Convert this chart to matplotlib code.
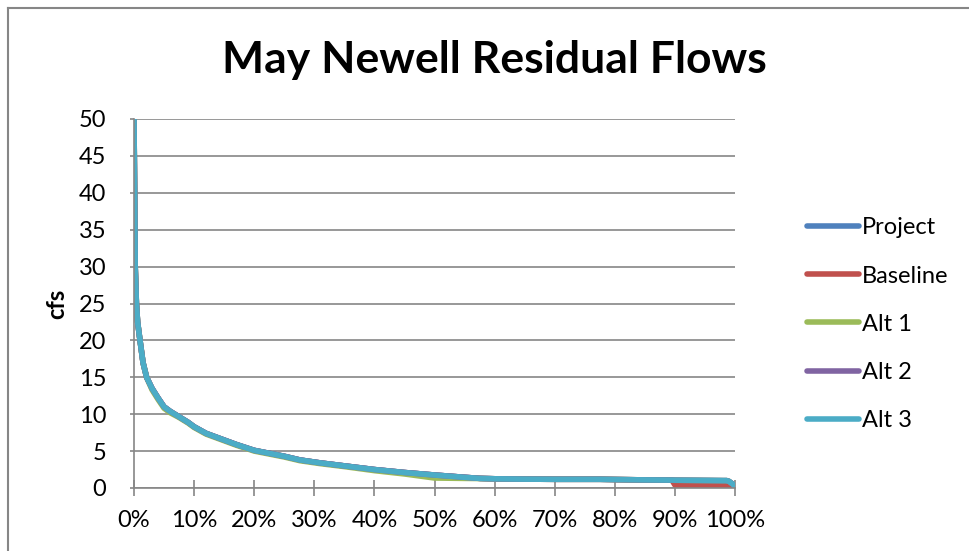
import matplotlib
matplotlib.use("Agg")
import matplotlib.pyplot as plt
from matplotlib.lines import Line2D
from matplotlib.ticker import PercentFormatter

plt.rcParams['font.family'] = ['Lato', 'DejaVu Sans']

# Exceedance probability (fraction) and flows (cfs)
exceedance = [0.0, 0.001, 0.002, 0.004, 0.006, 0.01, 0.015, 0.021, 0.03, 0.04, 0.05,
              0.06, 0.074, 0.09, 0.10, 0.12, 0.15, 0.17, 0.20, 0.25, 0.276, 0.31,
              0.35, 0.40, 0.45, 0.50, 0.55, 0.576, 0.60, 0.65, 0.70, 0.775, 0.80,
              0.85, 0.895, 0.90, 0.95, 0.98, 0.986, 0.99, 0.995, 1.0]
project = [50.0, 40.0, 30.0, 25.0, 22.5, 20.0, 17.0, 15.0, 13.5, 12.2, 11.0,
           10.4, 9.7, 8.9, 8.3, 7.4, 6.5, 5.9, 5.1, 4.3, 3.8, 3.4,
           3.0, 2.5, 2.1, 1.76, 1.45, 1.3, 1.25, 1.2, 1.18, 1.18, 1.15,
           1.1, 1.07, 1.05, 1.02, 1.0, 1.0, 0.9, 0.6, 0.27]
baseline = [50.0, 40.0, 30.0, 25.0, 22.5, 20.0, 17.0, 15.0, 13.5, 12.2, 11.0,
            10.4, 9.7, 8.9, 8.3, 7.4, 6.5, 5.9, 5.1, 4.3, 3.8, 3.4,
            3.0, 2.5, 2.1, 1.76, 1.45, 1.3, 1.25, 1.2, 1.18, 1.18, 1.15,
            1.1, 1.07, 0.4, 0.4, 0.4, 0.4, 0.35, 0.3, 0.27]
alt1 = [50.0, 40.0, 30.0, 25.0, 22.5, 20.0, 17.0, 15.0, 13.3, 12.0, 10.8,
        10.2, 9.6, 8.8, 8.2, 7.3, 6.4, 5.8, 5.0, 4.2, 3.7, 3.3,
        2.9, 2.35, 1.9, 1.35, 1.3, 1.28, 1.25, 1.2, 1.18, 1.18, 1.15,
        1.1, 1.07, 1.05, 1.02, 1.0, 1.0, 0.9, 0.6, 0.27]
alt2 = list(project)
alt3 = list(project)

series = [("Project", project, "#4F81BD"),
          ("Baseline", baseline, "#C0504D"),
          ("Alt 1", alt1, "#9BBB59"),
          ("Alt 2", alt2, "#8064A2"),
          ("Alt 3", alt3, "#4BACC6")]

y_ticks = [0, 5, 10, 15, 20, 25, 30, 35, 40, 45, 50]
x_ticks = [0, 0.1, 0.2, 0.3, 0.4, 0.5, 0.6, 0.7, 0.8, 0.9, 1.0]

fig = plt.figure(figsize=(9.69, 5.51), dpi=100)
W, H = 969, 551
ax = fig.add_axes([134 / W, 1 - 488 / H, (735 - 134) / W, (488 - 119) / H])

for name, vals, col in series:
    ax.plot(exceedance, vals, color=col, lw=4, solid_capstyle='round',
            solid_joinstyle='round', label=name)

ax.set_xlim(0, 1)
ax.set_ylim(0, 50)
ax.set_xticks(x_ticks)
ax.set_yticks(y_ticks)
ax.xaxis.set_major_formatter(PercentFormatter(1.0, decimals=0))
ax.grid(axis='y', color='#868686', lw=1.2)
ax.set_axisbelow(True)
for s in ['top', 'right']:
    ax.spines[s].set_visible(False)
for s in ['left', 'bottom']:
    ax.spines[s].set_color('#868686')
    ax.spines[s].set_linewidth(1.2)
ax.tick_params(axis='x', direction='inout', length=12, width=1.2, color='#868686',
               labelsize=17, pad=10)
ax.tick_params(axis='y', direction='out', length=3, width=1.2, color='#868686',
               labelsize=17, pad=17)
ax.set_ylabel("cfs", fontsize=17, fontweight='bold')
ax.yaxis.set_label_coords((68 - 134) / (735 - 134), 0.5)

fig.text(494 / W, 1 - 60 / H, "May Newell Residual Flows", ha='center', va='center',
         fontsize=32, fontweight='bold')

handles = [Line2D([], [], color=c, lw=4, solid_capstyle='round') for _, _, c in series]
labels = [n for n, _, _ in series]
fig.legend(handles, labels, loc='upper left', bbox_to_anchor=(798 / W, 1 - 208 / H),
           frameon=False, fontsize=17, handlelength=2.2, handletextpad=0.12,
           labelspacing=1.15, borderaxespad=0)

# chart frame (left and top edges)
fig.add_artist(Line2D([8 / W, 8 / W], [0, 1 - 8 / H], color='#868686', lw=1.5,
                      transform=fig.transFigure))
fig.add_artist(Line2D([8 / W, 1], [1 - 8 / H, 1 - 8 / H], color='#868686', lw=1.5,
                      transform=fig.transFigure))

fig.savefig("out.png", dpi=100)
